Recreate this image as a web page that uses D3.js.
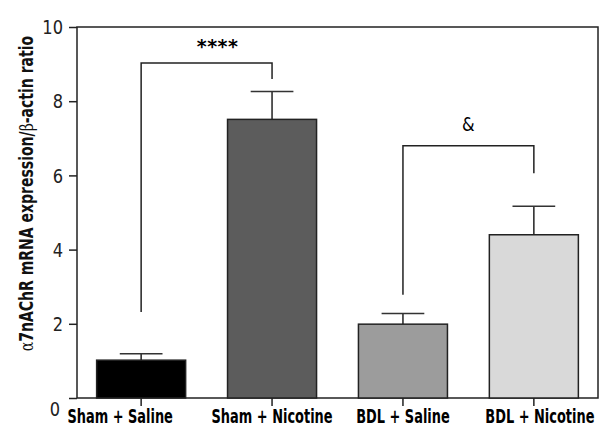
<!DOCTYPE html>
<html>
<head>
<meta charset="utf-8">
<script src="https://cdn.jsdelivr.net/npm/d3@7"></script>
<style>
	body { margin:0; background:#fff; }
	svg { display:block; }
	.lab { font-family:"DejaVu Sans",sans-serif; font-stretch:condensed; }
</style>
</head>
<body>
<svg id="chart" width="602" height="428"></svg>
<script>
"use strict";

// groups, means and error (SEM)
var groups = ['Sham + Saline', 'Sham + Nicotine', 'BDL + Saline', 'BDL + Nicotine'];
var means  = [1.02, 7.51, 1.99, 4.40];
var errors = [0.17, 0.75, 0.29, 0.77];
var fills  = ['#000000', '#5c5c5c', '#9c9c9c', '#d9d9d9'];
var yTicks = [0, 2, 4, 6, 8, 10];

// significance brackets: from group, to group, level, leg ends (data units)
var bracketFrom  = [0, 2];
var bracketTo    = [1, 3];
var bracketLevel = [9.03, 6.80];
var bracketLeftEnd  = [2.32, 2.78];
var bracketRightEnd = [8.60, 6.06];
var bracketText  = ['****', '&'];

var svg = d3.select('#chart');
var mLeft = 77, mRight = 598, mTop = 27, mBottom = 398;

var x = d3.scaleBand().domain(groups).range([mLeft, mRight])
	.paddingInner(0.32).paddingOuter(0.15);
var y = d3.scaleLinear().domain([0, 10]).range([mBottom, mTop]);

// original text is a very condensed face -> squeeze DejaVu Condensed a bit more
var kTick = 0.95, kLabel = 0.72, kTitle = 0.82;

//*-*-*-*-*-*-*-*-*-*-*-*-*-*
// frame
//*-*-*-*-*-*-*-*-*-*-*-*-*-*
svg.append('rect')
	.attr('x', mLeft).attr('y', mTop)
	.attr('width', mRight - mLeft).attr('height', mBottom - mTop)
	.attr('fill', 'none').attr('stroke', '#222').attr('stroke-width', 1.5);

//*-*-*-*-*-*-*-*-*-*-*-*-*-*
// y axis
//*-*-*-*-*-*-*-*-*-*-*-*-*-*
var yAxis = svg.append('g')
	.attr('transform', 'translate(' + mLeft + ',0)')
	.call(d3.axisLeft(y).tickValues(yTicks).tickSize(8).tickPadding(6).tickFormat(d3.format('d')));
yAxis.select('.domain').remove();
yAxis.selectAll('line').attr('stroke', '#222').attr('stroke-width', 1.5);
yAxis.selectAll('text')
	.attr('class', 'lab')
	.style('font-size', '19px').style('fill', '#222')
	.attr('x', function(d){ return (d === 0 ? -17 : -14) / kTick; })
	.attr('transform', 'scale(' + kTick + ',1)')
	.attr('dy', function(d){ return d === 0 ? '0.9em' : '0.35em'; });

//*-*-*-*-*-*-*-*-*-*-*-*-*-*
// x axis
//*-*-*-*-*-*-*-*-*-*-*-*-*-*
var xAxis = svg.append('g')
	.attr('transform', 'translate(0,' + mBottom + ')')
	.call(d3.axisBottom(x).tickSize(8).tickSizeOuter(0).tickPadding(3));
xAxis.select('.domain').remove();
xAxis.selectAll('line').attr('stroke', '#222').attr('stroke-width', 1.5);
xAxis.selectAll('text')
	.attr('class', 'lab')
	.style('font-size', '20px').style('font-weight', 'bold').style('fill', '#000')
	.attr('x', function(d, i){ return (i === 0 ? -21 : (i === 3 ? 6 : 0)) / kLabel; })
	.attr('transform', 'scale(' + kLabel + ',1)');

//*-*-*-*-*-*-*-*-*-*-*-*-*-*
// bars + error bars
//*-*-*-*-*-*-*-*-*-*-*-*-*-*
var bw = x.bandwidth();
var bars = svg.append('g').selectAll('g').data(groups).enter().append('g');
bars.append('line')
	.attr('x1', function(d){ return x(d) + bw / 2; })
	.attr('x2', function(d){ return x(d) + bw / 2; })
	.attr('y1', function(d, i){ return y(means[i]); })
	.attr('y2', function(d, i){ return y(means[i] + errors[i]); })
	.attr('stroke', '#222').attr('stroke-width', 1.5);
bars.append('line')
	.attr('x1', function(d){ return x(d) + bw / 2 - bw * 0.24; })
	.attr('x2', function(d){ return x(d) + bw / 2 + bw * 0.24; })
	.attr('y1', function(d, i){ return y(means[i] + errors[i]); })
	.attr('y2', function(d, i){ return y(means[i] + errors[i]); })
	.attr('stroke', '#333').attr('stroke-width', 1.5);
bars.append('rect')
	.attr('x', function(d){ return x(d); })
	.attr('width', bw)
	.attr('y', function(d, i){ return y(means[i]); })
	.attr('height', function(d, i){ return y(0) - y(means[i]); })
	.attr('fill', function(d, i){ return fills[i]; })
	.attr('stroke', '#222').attr('stroke-width', 1.5);

//*-*-*-*-*-*-*-*-*-*-*-*-*-*
// brackets
//*-*-*-*-*-*-*-*-*-*-*-*-*-*
bracketText.forEach(function(t, i)
{
	var x1 = x(groups[bracketFrom[i]]) + bw / 2;
	var x2 = x(groups[bracketTo[i]]) + bw / 2;
	svg.append('path')
		.attr('d', 'M' + x1 + ',' + y(bracketLeftEnd[i]) +
			'V' + y(bracketLevel[i]) + 'H' + x2 + 'V' + y(bracketRightEnd[i]))
		.attr('fill', 'none').attr('stroke', '#222').attr('stroke-width', 1.5);
	var tx = (x1 + x2) / 2 + (i === 0 ? 11 : 0);
	var lbl = svg.append('text')
		.attr('text-anchor', 'middle')
		.style('font-family', 'DejaVu Sans')
		.text(t);
	if(i === 0)
		lbl.attr('transform', 'translate(' + tx + ',' + (y(bracketLevel[i]) - 10) + ')')
			.style('font-weight', 'bold').style('font-size', '19px').style('letter-spacing', '0.5px');
	else
		lbl.attr('transform', 'translate(' + tx + ',' + (y(bracketLevel[i]) - 15) + ') scale(0.85,1)')
			.style('font-size', '19px');
});

//*-*-*-*-*-*-*-*-*-*-*-*-*-*
// y title
//*-*-*-*-*-*-*-*-*-*-*-*-*-*
var yt = svg.append('text')
	.attr('class', 'lab')
	.attr('transform', 'translate(33,' + ((mTop + mBottom) / 2 - 19) + ') rotate(-90) scale(' + kTitle + ',1)')
	.attr('text-anchor', 'middle')
	.style('font-size', '19px').style('font-weight', 'bold').style('fill', '#111');
yt.append('tspan').style('font-weight', 'normal').style('font-family', 'DejaVu Serif').text('\u03b1');
yt.append('tspan').text('7nAChR mRNA expression/');
yt.append('tspan').style('font-weight', 'normal').style('font-family', 'DejaVu Serif').text('\u03b2');
yt.append('tspan').text('-actin ratio');
</script>
</body>
</html>
